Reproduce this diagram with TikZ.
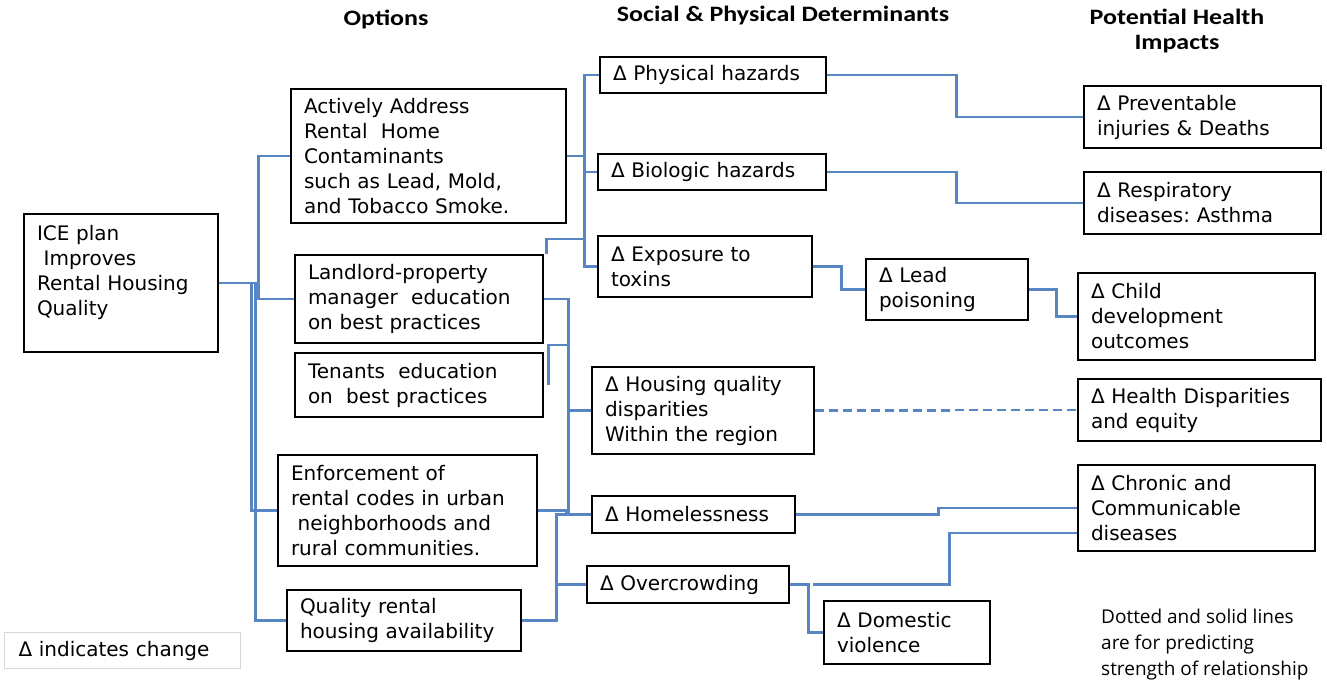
\documentclass[tikz,border=0pt]{standalone}
\usepackage{fontspec}
\setmainfont{DejaVu Sans}
\newfontfamily\hfont{Carlito}[FakeStretch=1.18]
\newfontfamily\nfont{Open Sans}
\definecolor{conncol}{RGB}{88,134,196}
\tikzset{
  box/.style={draw=black, line width=2.6pt, rectangle, inner xsep=13pt, inner ysep=2pt, align=left, font=\fontsize{20}{25}\selectfont},
  conn/.style={draw=conncol, line width=2.4pt},
  head/.style={font=\hfont\bfseries\fontsize{22}{25}\selectfont, align=center},
}
\newcommand{\mybox}[6]{%
  \pgfmathsetmacro{\mbw}{#4-#2}\pgfmathsetmacro{\mbh}{#5-#3}\pgfmathsetmacro{\mtw}{#4-#2-26}%
  \node[box, minimum width=\mbw pt, minimum height=\mbh pt, text width=\mtw pt] (#1) at ({(#2+#4)/2},{(#3+#5)/2}) {#6};}
\begin{document}
\begin{tikzpicture}[x=1pt,y=-1pt]
\useasboundingbox (0,0) rectangle (1327,690);
% headings
\node[head] (h1) at (386,19) {Options};
\node[head] (h2) at (783,16) {Social \& Physical Determinants};
\node[head] (h3) at (1177,31) {Potential Health\\Impacts};
% option boxes
\mybox{ice}{24}{214}{218}{352}{ICE plan\\\ Improves\\Rental Housing\\Quality\\\mbox{}}
\mybox{act}{291}{89}{566}{223}{Actively Address\\Rental\ \ Home\\Contaminants\\such as Lead, Mold,\\and Tobacco Smoke.}
\mybox{land}{295}{255}{543}{343}{Landlord-property\\manager\ \ education\\on best practices}
\mybox{ten}{295}{353}{543}{417}{Tenants\ \ education\\on\ \ best practices}
\mybox{enf}{278}{455}{537}{566}{Enforcement of\\rental codes in urban\\\ neighborhoods\ and\\rural communities.}
\mybox{qual}{287}{590}{521}{651}{Quality rental\\housing availability}
% determinants
\mybox{phys}{600}{57}{826}{93}{Δ Physical hazards}
\mybox{bio}{598}{154}{826}{190}{Δ Biologic hazards}
\mybox{exp}{598}{236}{812}{297}{Δ Exposure to\\toxins}
\mybox{hq}{592}{367}{814}{454}{Δ Housing quality\\disparities\\Within the region}
\mybox{home}{592}{496}{795}{533}{Δ Homelessness}
\mybox{over}{587}{566}{789}{603}{Δ Overcrowding}
\mybox{lead}{866}{259}{1028}{320}{Δ Lead\\poisoning}
\mybox{dom}{824}{601}{990}{664}{Δ Domestic\\violence}
% impacts
\mybox{prev}{1084}{86}{1321}{148}{Δ Preventable\\injuries \& Deaths}
\mybox{resp}{1084}{172}{1321}{234}{Δ Respiratory\\diseases:\ Asthma}
\mybox{child}{1078}{273}{1315}{360}{Δ Child\\development\\outcomes}
\mybox{hd}{1078}{379}{1321}{441}{Δ Health Disparities\\and equity}
\mybox{chron}{1078}{465}{1315}{551}{Δ Chronic and\\Communicable\\diseases}
% legend
\node[draw={rgb,255:red,215;green,215;blue,215}, line width=1pt, minimum width=236pt, minimum height=36pt, inner xsep=14pt, anchor=north west, font=\fontsize{20}{25}\selectfont, text width=208pt, align=left] (leg) at (4,632) {Δ indicates change};
\node[anchor=north west, align=left, font=\nfont\fontsize{19}{26}\selectfont, inner sep=0pt] (note) at (1101,609) {Dotted and solid lines\\are for predicting\\strength of relationship};
% left connectors
\draw[conn] (ice.east) -- ++(39,0) coordinate (jl) |- (act.west);
\draw[conn] (jl) |- (land.west);
\draw[conn] ([xshift=-7pt]jl) |- (enf.west);
\draw[conn] ([xshift=-3pt]jl) |- (qual.west);
% middle top
\draw[conn] (act.east) -- ++(17,0) coordinate (jm) |- (phys.west);
\draw[conn] (jm) |- (bio.west);
\draw[conn] (jm) |- (exp.west);
\draw[conn] ([xshift=2pt]land.north east) -- ++(0,-15) -- ++(38,0);
% middle lower
\draw[conn] (land.east) -- ++(24,0) coordinate (jn) |- (hq.west);
\draw[conn] (jn) |- (home.west);
\draw[conn] ([xshift=4pt]ten.east) |- ++(20,-40);
\draw[conn] (enf.east) -- ++(28,0) |- (home.west);
\draw[conn] (qual.east) -- ++(34,0) coordinate (jq) |- (over.west);
\draw[conn] (jq) |- (home.west);
% right connectors
\draw[conn] (phys.east) -- ++(129,0) |- (prev.west);
\draw[conn] (bio.east) -- ++(129,0) |- (resp.west);
\draw[conn] (exp.east) -- ++(28,0) |- (lead.west);
\draw[conn] (lead.east) -- ++(27,0) |- (child.west);
\draw[conn, dashed, dash pattern=on 9pt off 5pt] (hq.east) -- ++(133,0) |- (hd.west);
\draw[conn] (home.east) -- ++(142,0) |- (chron.west);
\draw[conn] (over.east) -- ++(18,0) |- (dom.west);
\draw[conn] ([xshift=23pt]over.east) -- ++(136,0) |- ([yshift=-25pt]chron.west);
\end{tikzpicture}
\end{document}
